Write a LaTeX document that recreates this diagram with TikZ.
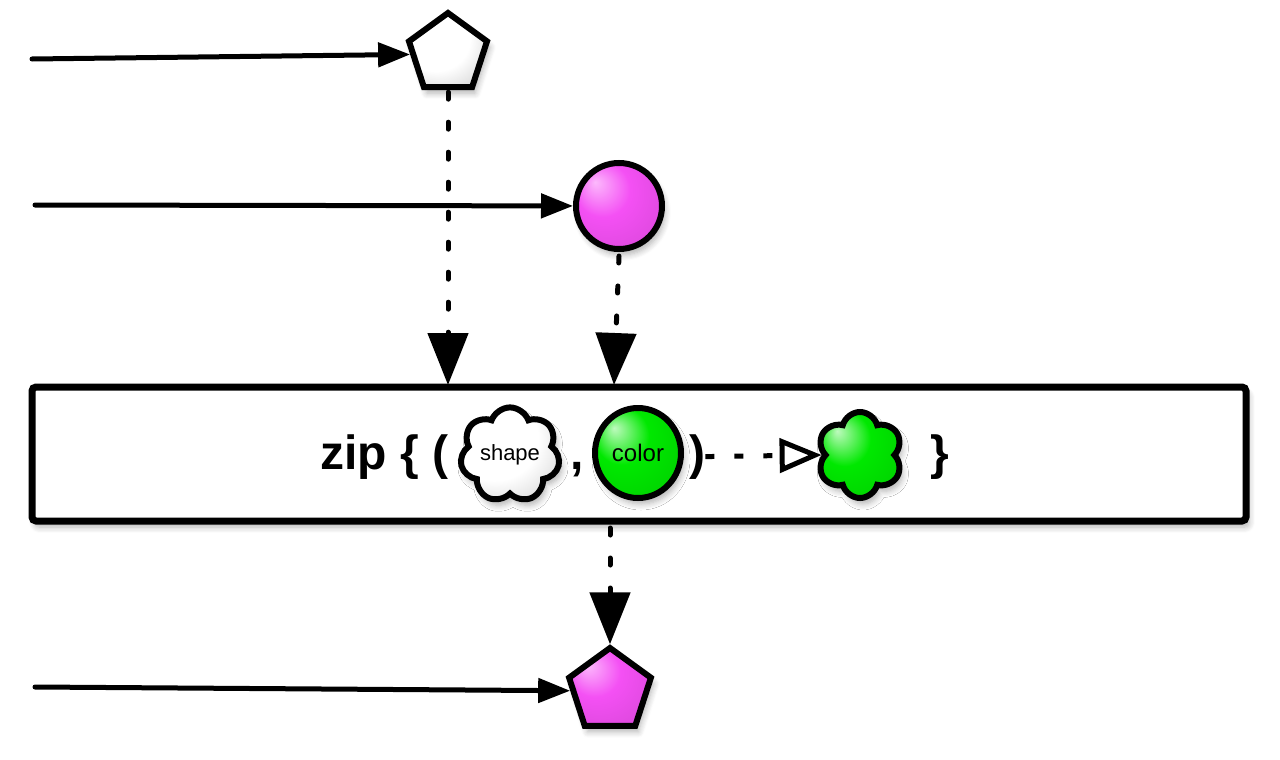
\documentclass[tikz,border=0pt]{standalone}
\usepackage{fontspec}
\setmainfont{Liberation Sans}
\usetikzlibrary{arrows.meta, shapes.geometric, shapes.symbols, shadows.blur}

\definecolor{pinklight}{RGB}{252,185,252}
\definecolor{pinkmid}{RGB}{244,80,244}
\definecolor{pinkdark}{RGB}{165,35,165}
\definecolor{greenlight}{RGB}{190,250,190}
\definecolor{greenmid}{RGB}{0,232,0}
\definecolor{greendark}{RGB}{0,140,0}

\pgfdeclareradialshading{whitepuff}{\pgfpoint{-14bp}{14bp}}{color(0bp)=(white); color(22bp)=(white); color(38bp)=(black!18); color(50bp)=(black!45)}
\pgfdeclareradialshading{pinkpuff}{\pgfpoint{-14bp}{14bp}}{color(0bp)=(pinklight); color(16bp)=(pinkmid); color(36bp)=(pinkmid!90!black); color(50bp)=(pinkdark)}
\pgfdeclareradialshading{greenpuff}{\pgfpoint{-14bp}{14bp}}{color(0bp)=(greenlight); color(16bp)=(greenmid); color(36bp)=(greenmid!90!black); color(50bp)=(greendark)}

\begin{document}
\begin{tikzpicture}[
    x=0.5pt, y=-0.5pt,
    softshadow/.style={blur shadow={shadow xshift=1.5pt, shadow yshift=-3pt,
                       shadow blur steps=6, shadow blur radius=3pt, shadow opacity=30}},
    marble/.style={draw, line width=3pt, inner sep=0pt, softshadow},
    timeline/.style={line width=2.5pt, line cap=round, -{Triangle[length=16pt, width=12pt]}},
    emit/.style={line width=2.5pt, line cap=round, dash pattern=on 3.5pt off 11.5pt,
                 -{Triangle[length=26pt, width=20pt, line cap=butt]}},
    pipe/.style={line width=2.5pt, dash pattern=on 4.5pt off 10pt,
                 -{Triangle[open, length=21pt, width=17pt, line width=2.5pt]}},
    opbox/.style={draw, line width=3.5pt, rounded corners=2pt, fill=white,
                  minimum width=607pt, minimum height=67pt, softshadow},
    optext/.style={font=\fontsize{24}{28}\bfseries, inner sep=0pt},
]
\useasboundingbox (0,0) rectangle (1280,760);

% operator box
\node[opbox] (zipbox) at (639,454) {};
\node[optext, anchor=base east] (zipword) at (449,469) {zip \{ (};
\node[cloud, cloud puffs=7, cloud puff arc=140, aspect=1.1, marble,
      shading=whitepuff, minimum width=45pt, minimum height=42pt,
      font=\fontsize{11}{11}\selectfont] (shapein) at (510,455) {shape};
\node[optext, anchor=base] (comma) at (577,469) {,};
\node[ellipse, marble, shading=greenpuff, minimum width=43pt, minimum height=45pt,
      font=\fontsize{12}{12}\selectfont] (colorin) at (638,453) {color};
\node[optext, anchor=base] (rparen) at (697,469) {)};
\node[cloud, cloud puffs=6, cloud puff arc=150, aspect=1, marble,
      shading=greenpuff, minimum width=43pt, minimum height=43pt] (result) at (860,455) {};
\node[optext, anchor=base] (rbrace) at (940,469) {\}};
\draw[pipe] (rparen.east) -- (result.west);

% source streams
\node[regular polygon, regular polygon sides=5, marble, shading=whitepuff,
      minimum size=41pt] (shapesrc) at (448,54) {};
\node[circle, marble, shading=pinkpuff, minimum size=43pt] (colorsrc) at (619,206) {};
\coordinate (line1) at (32,59);
\coordinate (line2) at (35,205);
\draw[timeline] (line1) -- (shapesrc);
\draw[timeline] (line2) -- (colorsrc);

% emissions into the operator
\coordinate (hit1) at (448,385);
\coordinate (hit2) at (614,385);
\draw[emit] (shapesrc.south) ++(0,2) -- (hit1);
\draw[emit] (colorsrc.south) ++(0,4) -- (hit2);

% output stream
\node[regular polygon, regular polygon sides=5, marble, shading=pinkpuff,
      minimum size=43pt] (zipout) at (610,691) {};
\coordinate (line3) at (35,687);
\coordinate (leave) at (610,528);
\draw[timeline] (line3) -- (zipout);
\draw[emit] (leave) -- (zipout.north);
\end{tikzpicture}
\end{document}
